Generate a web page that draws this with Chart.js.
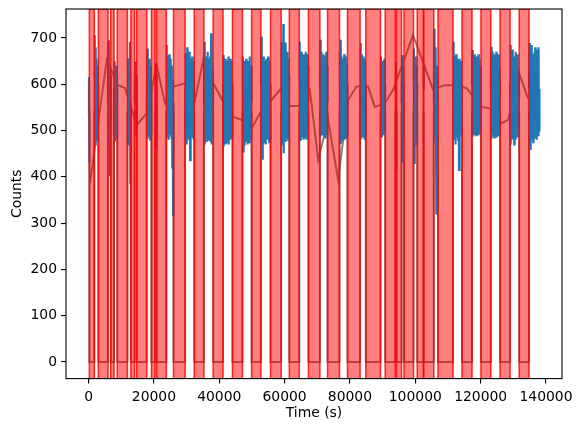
<!DOCTYPE html>
<html>
<head>
<meta charset="utf-8">
<script src="https://cdn.jsdelivr.net/npm/chart.js@4.4.1/dist/chart.umd.min.js"></script>
<style>
  html, body { margin: 0; padding: 0; background: #fff; }
</style>
</head>
<body>
<canvas id="chart" width="585" height="432"></canvas>
<script>
// bad time intervals (s), shaded red
var spanStart = [250, 3000, 6800, 8800, 12950, 14750, 19250, 20850, 26000, 32350, 38150, 44050, 49900, 55700, 61450,
                 67300, 73150, 79250, 84850, 90800, 94250, 96550, 100600, 102600, 106950, 114300, 120100, 125950, 131800];
var spanEnd   = [1770, 5950, 7800, 11900, 14100, 17800, 20350, 23800, 29550, 35300, 41150, 47100, 52750, 58950, 64500,
                 70800, 76800, 83100, 89350, 93900, 95800, 99450, 102450, 105650, 111550, 117350, 123100, 129000, 134800];
var tEnd = 138000;

// counts in each good interval (between the red spans)
var counts = [
  [530, 615, 430],
  [615, 706, 470, 680, 500, 655, 480, 640, 490, 600],
  [560, 695, 470, 640, 401, 620, 520],
  [590, 649, 475, 630, 490, 640, 480, 600],
  [600, 656, 470, 640, 490, 692, 386, 560],
  [560, 649, 487, 620, 500],
  [540, 677, 483, 660, 500, 645, 490, 655, 480, 640, 495, 600],
  [600, 646, 465, 620],
  [560, 685, 487, 660, 495, 650, 480, 665, 490, 640, 500, 655, 485, 640, 420, 610, 318, 560],
  [590, 667, 487, 650, 470, 680, 495, 660, 480, 645, 490, 670, 436, 630, 490, 655, 485, 660, 495, 640, 480, 650, 560],
  [560, 692, 470, 650, 485, 660, 475, 640, 490, 670, 480, 655, 495, 645, 485, 660, 475, 710, 470, 680, 490, 630, 560],
  [600, 663, 465, 640, 480, 655, 470, 630, 490, 650, 475, 645, 485, 660, 470, 640, 490, 655, 480, 635, 495, 650, 485, 600],
  [580, 660, 455, 640, 470, 650, 480, 630, 475, 655, 490, 640, 470, 650, 485, 645, 475, 660, 490, 635, 480, 640, 560],
  [600, 703, 470, 652, 437, 640, 480, 660, 475, 645, 490, 650, 470, 655, 485, 640, 480, 660, 490, 645, 475, 650, 485, 600],
  [590, 690, 470, 680, 480, 730, 451, 680, 480, 670, 475, 690, 485, 660, 490, 670, 480, 655, 490, 620],
  [600, 692, 480, 660, 490, 670, 485, 655, 495, 665, 480, 650, 500, 660, 485, 670, 490, 655, 480, 665, 495, 640, 560],
  [590, 696, 487, 670, 495, 660, 490, 655, 500, 665, 490, 650, 485, 660, 495, 670, 490, 640, 560],
  [600, 670, 473, 696, 485, 660, 480, 650, 495, 655, 490, 665, 480, 650, 495, 660, 485, 645, 490, 600],
  [590, 689, 480, 665, 490, 650, 485, 660, 495, 645, 480, 655, 490, 600],
  [560, 660, 487, 640, 495, 650, 500, 645, 490, 655, 495, 600],
  [600, 649, 415],
  [560, 663, 430, 640, 480, 600],
  [600, 677, 430, 650, 470, 660, 480, 640, 490, 600],
  [590, 640],
  [560, 720, 480, 680, 470, 660, 321, 600, 480, 640, 560],
  [590, 692, 480, 660, 490, 650, 470, 665, 485, 640, 495, 655, 480, 640, 415, 655, 485, 645, 495, 650, 490, 600],
  [600, 674, 487, 660, 495, 650, 490, 665, 500, 655, 490, 660, 495, 650, 500, 665, 490, 655, 495, 640, 500, 600],
  [590, 681, 483, 660, 490, 670, 495, 655, 485, 665, 500, 650, 490, 670, 485, 660, 495, 655, 490, 665, 500, 630, 570],
  [600, 685, 470, 665, 480, 655, 490, 675, 485, 660, 470, 650, 495, 670, 480, 660, 490, 655, 485, 665, 495, 630, 570],
  [590, 689, 470, 670, 458, 660, 480, 685, 490, 665, 475, 650, 485, 670, 500, 680, 490, 660, 480, 675, 495, 665, 490, 680, 500, 590]
];

// coarse binned curve
var binT = [460, 5565, 9020, 11160, 14740, 17800, 20855, 23395, 25930, 29510, 32570, 35105, 38165, 41220, 44190,
            46850, 49910, 52450, 56020, 58560, 61620, 64160, 67740, 70270, 73330, 76390, 79450, 82015, 85560, 87610,
            90670, 93210, 99320, 102900, 105440, 109010, 111070, 115650, 120240, 122780, 126360, 128380, 131960, 134490];
var binV = [387, 652, 598, 592, 512, 537, 641, 559, 595, 602, 566, 652, 602, 562, 530,
            523, 505, 537, 566, 588, 553, 553, 588, 437, 523, 393, 566, 595, 595, 551,
            559, 588, 706, 638, 588, 598, 598, 592, 551, 548, 516, 523, 620, 569];
var maskLevel = 540;

var xTicks = [0, 20000, 40000, 60000, 80000, 100000, 120000, 140000];
var yTicks = [0, 100, 200, 300, 400, 500, 600, 700];
var xMin = -6900, xMax = 144900, yMin = -36, yMax = 762.6;

// blue light curve, broken at the red spans
var segStart = [0].concat(spanEnd);
var segEnd = spanStart.concat([tEnd]);
var blueData = [];
counts.forEach(function (vals, i) {
  var a = segStart[i], b = segEnd[i], n = vals.length;
  vals.forEach(function (v, j) {
    blueData.push({ x: a + (b - a) * j / (n - 1), y: v });
  });
  if (i < counts.length - 1) blueData.push({ x: b, y: null });
});

// mask line: zero inside the spans
var maskData = [{ x: 0, y: maskLevel }];
spanStart.forEach(function (s, i) {
  maskData.push({ x: s, y: maskLevel }, { x: s, y: 0 }, { x: spanEnd[i], y: 0 }, { x: spanEnd[i], y: maskLevel });
});
maskData.push({ x: tEnd, y: maskLevel });

var binData = binT.map(function (t, i) { return { x: t, y: binV[i] }; });

var greyLine = 'rgba(95,95,95,0.8)';
var datasets = [
  { data: maskData, borderColor: greyLine, borderWidth: 2, pointRadius: 0, fill: false, order: 2 },
  { data: binData, borderColor: greyLine, borderWidth: 2, pointRadius: 0, fill: false, order: 2 },
  { data: blueData, borderColor: '#1f77b4', borderWidth: 2.1, pointRadius: 0, fill: false, spanGaps: false, order: 1 }
];
spanStart.forEach(function (s, i) {
  var e = spanEnd[i];
  datasets.push({
    data: [{ x: s, y: yMin }, { x: s, y: yMax }, { x: e, y: yMax }, { x: e, y: yMin }],
    borderColor: 'rgba(255,0,0,0.85)',
    borderWidth: 1.5,
    backgroundColor: 'rgba(255,0,0,0.5)',
    fill: 'start',
    pointRadius: 0,
    clip: 0,
    order: 0
  });
});

var frame = {
  id: 'frame',
  afterDatasetsDraw: function (chart) {
    var ctx = chart.ctx, a = chart.chartArea;
    ctx.save();
    ctx.strokeStyle = '#000';
    ctx.lineWidth = 1.1;
    ctx.strokeRect(a.left, a.top, a.right - a.left, a.bottom - a.top);
    ctx.restore();
  }
};

var tickFont = { family: 'DejaVu Sans', size: 13.9 };

new Chart('chart', {
  type: 'line',
  data: { datasets: datasets },
  options: {
    responsive: false,
    animation: false,
    devicePixelRatio: 1,
    layout: { padding: { top: 9, right: 23, left: 0, bottom: 0 } },
    plugins: { legend: { display: false }, tooltip: { enabled: false } },
    elements: { line: { tension: 0 } },
    scales: {
      x: {
        type: 'linear',
        min: xMin,
        max: xMax,
        afterBuildTicks: function (s) { s.ticks = xTicks.map(function (v) { return { value: v }; }); },
        afterFit: function (s) { s.height = 53.4; },
        grid: { drawOnChartArea: false, drawTicks: true, tickLength: 5, color: '#000', lineWidth: 1.1 },
        border: { display: false },
        ticks: { color: '#000', font: tickFont, padding: 5, maxRotation: 0, autoSkip: false,
                 callback: function (v) { return String(v); } },
        title: { display: true, text: 'Time (s)', color: '#000', font: tickFont, padding: { top: 0, bottom: 10 } }
      },
      y: {
        type: 'linear',
        min: yMin,
        max: yMax,
        afterBuildTicks: function (s) { s.ticks = yTicks.map(function (v) { return { value: v }; }); },
        afterFit: function (s) { s.width = 66; s.paddingTop = 0; s.paddingBottom = 0; },
        grid: { drawOnChartArea: false, drawTicks: true, tickLength: 5, color: '#000', lineWidth: 1.1 },
        border: { display: false },
        ticks: { color: '#000', font: tickFont, padding: 4, callback: function (v) { return String(v); } },
        title: { display: true, text: 'Counts', color: '#000', font: tickFont, padding: { top: 9, bottom: 0 } }
      }
    }
  },
  plugins: [frame]
});
</script>
</body>
</html>
